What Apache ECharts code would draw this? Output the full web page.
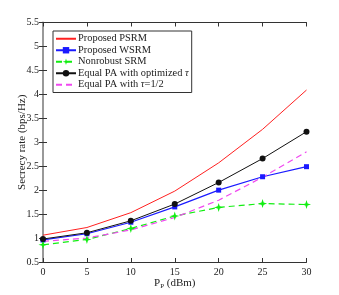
<!DOCTYPE html>
<html><head><meta charset="utf-8">
<script src="https://cdn.jsdelivr.net/npm/echarts@6/dist/echarts.min.js"></script>
<style>html,body{margin:0;padding:0;background:#fff}#c{width:339px;height:295px}</style>
</head><body><div id="c"></div>
<script>
var xValues = [0, 5, 10, 15, 20, 25, 30];
var psrm = [1.06, 1.22, 1.53, 1.98, 2.57, 3.27, 4.09];
var wsrm = [0.96, 1.09, 1.33, 1.65, 2.00, 2.28, 2.49];
var nonrobust = [0.86, 0.97, 1.20, 1.46, 1.64, 1.72, 1.70];
var equalOpt = [0.98, 1.11, 1.36, 1.71, 2.16, 2.66, 3.22];
var equalHalf = [0.93, 1.00, 1.17, 1.43, 1.79, 2.27, 2.80];
var xTicks = [0, 5, 10, 15, 20, 25, 30];
var yTicks = [0.5, 1, 1.5, 2, 2.5, 3, 3.5, 4, 4.5, 5, 5.5];
var names = ['Proposed PSRM', 'Proposed WSRM', 'Nonrobust SRM', 'Equal PA with optimized \u03c4', 'Equal PA with \u03c4=1/2'];

function pairs(arr) { return xValues.map(function (x, i) { return [x, arr[i]]; }); }
var font = 'Liberation Serif';
var starPath = 'path://M5,0L6.2,3.8L10,5L6.2,6.2L5,10L3.8,6.2L0,5L3.8,3.8Z';
var hidden = { color: 'rgba(0,0,0,0)', borderWidth: 0, borderColor: 'rgba(0,0,0,0)' };

var chart = echarts.init(document.getElementById('c'));
var axisCommon = {
  axisLine: { show: true, lineStyle: { color: '#333', width: 1 } },
  axisTick: { show: true, inside: true, length: 4, lineStyle: { color: '#333' } },
  splitLine: { show: false }
};
chart.setOption({
  animation: false,
  backgroundColor: '#fff',
  grid: { left: 43, right: 32.5, top: 22.5, bottom: 33, containLabel: false, outerBoundsMode: 'none' },
  legend: {
    orient: 'vertical', left: 53, top: 31,
    borderColor: '#333', borderWidth: 1, backgroundColor: '#fff',
    padding: [2, 3, 2, 2], itemGap: 0, itemWidth: 20, itemHeight: 8,
    textStyle: { fontFamily: font, fontSize: 10.4, color: '#222', lineHeight: 11.5, padding: [0, 0, 0, -3],
      rich: { i: { fontFamily: font, fontStyle: 'italic', fontSize: 10.4, color: '#222' } } },
    formatter: function (n) { return n.replace(/\u03c4/g, '{i|\u03c4}'); },
    data: [
      { name: names[0], itemStyle: hidden },
      { name: names[1] },
      { name: names[2] },
      { name: names[3] },
      { name: names[4], itemStyle: hidden }
    ]
  },
  xAxis: [Object.assign({
    type: 'value', min: 0, max: 30, interval: 5, position: 'bottom',
    name: '{a|P}{s|P}{a| (dBm)}', nameLocation: 'middle', nameGap: 14, nameMoveOverlap: false,
    nameTextStyle: { fontFamily: font, fontSize: 11, color: '#222',
      rich: { a: { fontFamily: font, fontSize: 11, color: '#222' }, s: { fontFamily: font, fontSize: 7, color: '#222', padding: [7, 0, 0, 0] } } },
    axisLabel: { fontFamily: font, fontSize: 10, color: '#222', margin: 5 }
  }, axisCommon), Object.assign({
    type: 'value', min: 0, max: 30, interval: 5, position: 'top', axisLabel: { show: false }
  }, axisCommon)],
  yAxis: [Object.assign({
    type: 'value', min: 0.5, max: 5.5, interval: 0.5, position: 'left',
    name: 'Secrecy rate (bps/Hz)', nameLocation: 'middle', nameGap: 15, nameMoveOverlap: false,
    nameTextStyle: { fontFamily: font, fontSize: 11, color: '#222' },
    axisLabel: { fontFamily: font, fontSize: 10, color: '#222', margin: 4 }
  }, axisCommon), Object.assign({
    type: 'value', min: 0.5, max: 5.5, interval: 0.5, position: 'right', axisLabel: { show: false }
  }, axisCommon, { axisLine: { show: true, lineStyle: { color: '#999', width: 2 } } })],
  series: [
    { name: names[0], type: 'line', data: pairs(psrm), symbol: 'none', lineStyle: { color: '#ff2020', width: 1 }, itemStyle: { color: '#ff2020' } },
    { name: names[1], type: 'line', data: pairs(wsrm), symbol: 'rect', symbolSize: 5, lineStyle: { color: '#1a1aff', width: 1.2 }, itemStyle: { color: '#1a1aff' } },
    { name: names[2], type: 'line', data: pairs(nonrobust), symbol: starPath, symbolSize: 9, lineStyle: { color: '#11ee11', width: 1.2, type: [6, 4] }, itemStyle: { color: '#11ee11' } },
    { name: names[3], type: 'line', data: pairs(equalOpt), symbol: 'circle', symbolSize: 6, lineStyle: { color: '#111', width: 1 }, itemStyle: { color: '#111' } },
    { name: names[4], type: 'line', data: pairs(equalHalf), symbol: 'none', lineStyle: { color: '#f048f0', width: 1.2, type: [6, 4] }, itemStyle: { color: '#f048f0' } }
  ]
});
</script></body></html>
